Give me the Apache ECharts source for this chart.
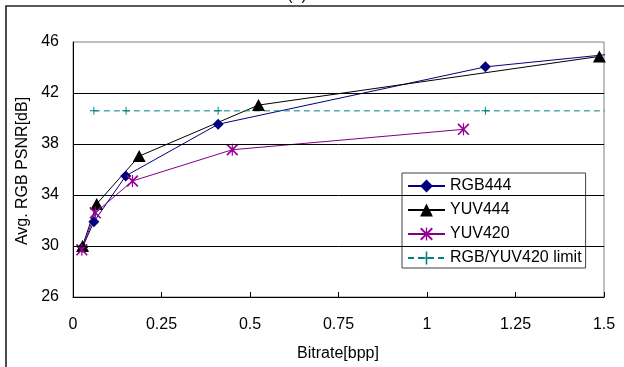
<!DOCTYPE html>
<html>
<head>
<meta charset="utf-8">
<script src="https://cdn.jsdelivr.net/npm/echarts@6/dist/echarts.min.js"></script>
<style>
html,body{margin:0;padding:0;background:#fff;}
#chart{width:624px;height:367px;}
</style>
</head>
<body>
<div id="chart"></div>
<script>
// ---- data ----
const xTicks = [0, 0.25, 0.5, 0.75, 1, 1.25, 1.5];
const yTicks = [26, 30, 34, 38, 42, 46];
const seriesNames = ['RGB444', 'YUV444', 'YUV420', 'RGB/YUV420 limit'];
const rgb444 = [[0.027, 29.9], [0.059, 31.9], [0.149, 35.5], [0.41, 39.55], [1.165, 44.05], [1.52, 45.05]];
const yuv444 = [[0.027, 30.0], [0.067, 33.3], [0.187, 37.05], [0.524, 41.05], [1.487, 44.87]];
const yuv420 = [[0.025, 29.7], [0.063, 32.6], [0.168, 35.1], [0.45, 37.55], [1.103, 39.15]];
const limit = [[0.059, 40.6], [0.15, 40.6], [0.41, 40.6], [1.165, 40.6], [1.515, 40.6]];

const xMax = xTicks[xTicks.length - 1];
function items(arr) {
  return arr.map(p => p[0] > xMax ? { value: p, symbol: 'none' } : { value: p });
}
const FONT = 'Liberation Sans, Arial, sans-serif';
const asterisk = 'path://M0,1 L1,0 L10,9 L9,10 Z M9,0 L10,1 L1,10 L0,9 Z M4.5,0 L5.5,0 L5.5,10 L4.5,10 Z';
const plus = 'path://M4.4,0 L5.6,0 L5.6,4.4 L10,4.4 L10,5.6 L5.6,5.6 L5.6,10 L4.4,10 L4.4,5.6 L0,5.6 L0,4.4 L4.4,4.4 Z';

const chart = echarts.init(document.getElementById('chart'), null, { renderer: 'canvas' });
chart.setOption({
  backgroundColor: '#fff',
  animation: false,
  textStyle: { fontFamily: FONT },
  grid: { left: 73, right: 20, top: 42, bottom: 70, show: true, borderColor: '#808080', borderWidth: 1, backgroundColor: '#fff' },
  xAxis: {
    type: 'value', min: xTicks[0], max: xMax, interval: xTicks[1] - xTicks[0],
    axisLine: { show: true, lineStyle: { color: '#000', width: 1 } },
    axisTick: { show: true, inside: true, length: 5, lineStyle: { color: '#000' } },
    axisLabel: { color: '#000', fontSize: 16, fontFamily: FONT, margin: 20 },
    splitLine: { show: false }
  },
  yAxis: {
    type: 'value', min: yTicks[0], max: yTicks[yTicks.length - 1], interval: yTicks[1] - yTicks[0],
    axisLine: { show: true, lineStyle: { color: '#000', width: 1 } },
    axisTick: { show: false },
    axisLabel: { color: '#000', fontSize: 16, fontFamily: FONT, margin: 14 },
    splitLine: { show: false }
  },
  legend: {
    orient: 'vertical', left: 402, top: 173,
    data: seriesNames,
    backgroundColor: '#fff', borderColor: '#404040', borderWidth: 1,
    padding: [5, 4, 2, 5],
    itemWidth: 37, itemHeight: 16, itemGap: 8,
    textStyle: { color: '#000', fontSize: 16, fontFamily: FONT, lineHeight: 16 }
  },
  graphic: [
    { type: 'rect', silent: true, z: 100, shape: { x: 6, y: 6, width: 700, height: 500 }, style: { fill: 'none', stroke: '#222', lineWidth: 1.6 } },
    { type: 'text', x: 23, y: 171, rotation: Math.PI / 2, style: { text: 'Avg. RGB PSNR[dB]', font: '16px ' + FONT, fill: '#000', align: 'center', verticalAlign: 'middle' } },
    { type: 'text', x: 338, y: 354, style: { text: 'Bitrate[bpp]', font: '16px ' + FONT, fill: '#000', align: 'center', verticalAlign: 'middle' } },
    { type: 'text', x: 297, y: 4, style: { text: '(a)', font: '16px ' + FONT, fill: '#000', align: 'center', verticalAlign: 'bottom' } }
  ],
  series: [
    {
      name: seriesNames[0], type: 'line', data: items(rgb444), clip: false,
      symbol: 'diamond', symbolSize: 11,
      lineStyle: { color: '#000080', width: 1 }, itemStyle: { color: '#000080' },
      markLine: {
        silent: true, symbol: 'none', label: { show: false },
        lineStyle: { color: '#000', width: 1, type: 'solid' },
        data: yTicks.slice(1, -1).map(v => ({ yAxis: v }))
      }
    },
    {
      name: seriesNames[1], type: 'line', data: items(yuv444), clip: false,
      symbol: 'triangle', symbolSize: [13, 12],
      lineStyle: { color: '#000', width: 1 }, itemStyle: { color: '#000' }
    },
    {
      name: seriesNames[2], type: 'line', data: items(yuv420), clip: false,
      symbol: asterisk, symbolSize: 12,
      lineStyle: { color: '#800080', width: 1 }, itemStyle: { color: '#990099' }
    },
    {
      name: seriesNames[3], type: 'line', data: items(limit), clip: false,
      symbol: plus, symbolSize: 8,
      lineStyle: { color: '#008080', width: 1, type: [6, 4] }, itemStyle: { color: '#008080' }
    }
  ]
});
</script>
</body>
</html>
